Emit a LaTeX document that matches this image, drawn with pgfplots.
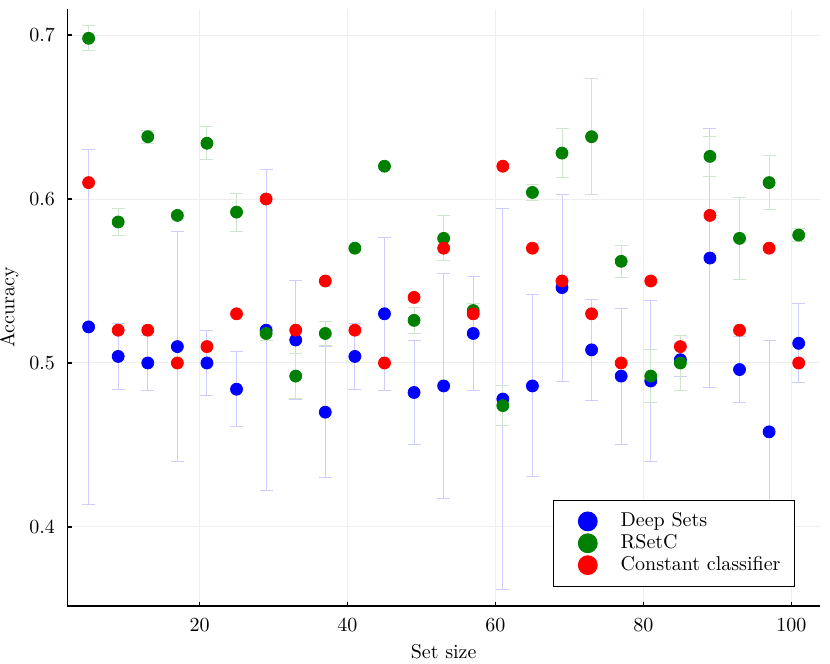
\documentclass[border=0pt]{standalone}
\usepackage{pgfplots}
\pgfplotsset{compat=1.18}
\usepackage{pgfplotstable}
\definecolor{dsblue}{RGB}{0,0,255}
\definecolor{rsgreen}{RGB}{0,128,0}
\definecolor{ccred}{RGB}{255,0,0}
\definecolor{dsbar}{RGB}{205,205,255}
\definecolor{rsbar}{RGB}{205,230,205}
\definecolor{gridc}{RGB}{238,238,238}

\pgfplotstableread{
x y e
5 0.522 0.108
9 0.504 0.020
13 0.500 0.017
17 0.510 0.070
21 0.500 0.020
25 0.484 0.023
29 0.520 0.098
33 0.514 0.0365
37 0.470 0.040
41 0.504 0.020
45 0.530 0.0465
49 0.482 0.0315
53 0.486 0.0686
57 0.518 0.035
61 0.478 0.116
65 0.486 0.0555
69 0.546 0.057
73 0.508 0.031
77 0.492 0.0415
81 0.489 0.049
85 0.502 0.010
89 0.564 0.079
93 0.496 0.020
97 0.458 0.056
101 0.512 0.024
}\deepsets

\pgfplotstableread{
x y e
5 0.698 0.0077
9 0.586 0.008
13 0.638 0.004
17 0.590 0.002
21 0.634 0.010
25 0.592 0.0116
29 0.518 0.004
33 0.492 0.0135
37 0.518 0.0076
41 0.570 0.001
45 0.620 0.001
49 0.526 0.008
53 0.576 0.0137
57 0.532 0.004
61 0.474 0.012
65 0.604 0.005
69 0.628 0.0147
73 0.638 0.0355
77 0.562 0.0097
81 0.492 0.016
85 0.500 0.017
89 0.626 0.012
93 0.576 0.025
97 0.610 0.0167
101 0.578 0.004
}\rsetc

\pgfplotstableread{
x y
5 0.61
9 0.52
13 0.52
17 0.50
21 0.51
25 0.53
29 0.60
33 0.52
37 0.55
41 0.52
45 0.50
49 0.54
53 0.57
57 0.53
61 0.62
65 0.57
69 0.55
73 0.53
77 0.50
81 0.55
85 0.51
89 0.59
93 0.52
97 0.57
101 0.50
}\constc

\begin{document}
\begin{tikzpicture}
\begin{axis}[
  scale only axis,
  width=376.35pt, height=298.35pt,
  xmin=2.12, xmax=103.88,
  ymin=0.3518, ymax=0.7157,
  axis x line*=bottom, axis y line*=left,
  axis line style={line width=0.6pt, -},
  tick align=inside,
  major tick length=2.2pt,
  tick style={line width=0.6pt, black},
  xtick={20,40,60,80,100},
  ytick={0.4,0.5,0.6,0.7},
  ticklabel style={font=\normalsize},
  xticklabel style={yshift=-3pt},
  yticklabel style={xshift=-2.7pt, /pgf/number format/fixed,/pgf/number format/precision=1},
  grid=major,
  major grid style={gridc, line width=0.5pt},
  xlabel={Set size},
  ylabel={Accuracy},
  xlabel style={at={(axis description cs:0.5,0)}, anchor=center, yshift=-22.8pt},
  ylabel style={at={(axis description cs:0,0.5)}, anchor=center, yshift=29pt},
  legend cell align=left,
  legend style={at={(0.9668,0.0318)}, anchor=south east, draw=black, line width=0.5pt, fill=white, row sep=0pt, inner xsep=4pt, inner ysep=5.2pt, nodes={inner ysep=1.2pt, inner xsep=3pt}},
  legend image code/.code={\path (0pt,0pt) (26pt,0pt); \fill[#1] (12.8pt,0pt) circle (4.7pt);},
]
\addplot[only marks, mark=*, mark size=3pt, draw=dsblue, fill=dsblue,
  error bars/.cd, y dir=both, y explicit,
  error bar style={dsbar, line width=0.5pt},
  error mark options={rotate=90, mark size=3.25pt, dsbar, line width=0.5pt}]
  table[x=x, y=y, y error=e] {\deepsets};
\addlegendentry{Deep Sets}
\addplot[only marks, mark=*, mark size=3pt, draw=rsgreen, fill=rsgreen,
  error bars/.cd, y dir=both, y explicit,
  error bar style={rsbar, line width=0.5pt},
  error mark options={rotate=90, mark size=3.25pt, rsbar, line width=0.5pt}]
  table[x=x, y=y, y error=e] {\rsetc};
\addlegendentry{RSetC}
\addplot[only marks, mark=*, mark size=3pt, draw=ccred, fill=ccred]
  table[x=x, y=y] {\constc};
\addlegendentry{Constant classifier}
\end{axis}
\pgfresetboundingbox
\path[use as bounding box] ([xshift=-33.65pt,yshift=-29pt]current axis.south west) rectangle ([xshift=5pt,yshift=4.65pt]current axis.north east);
\end{tikzpicture}
\end{document}
